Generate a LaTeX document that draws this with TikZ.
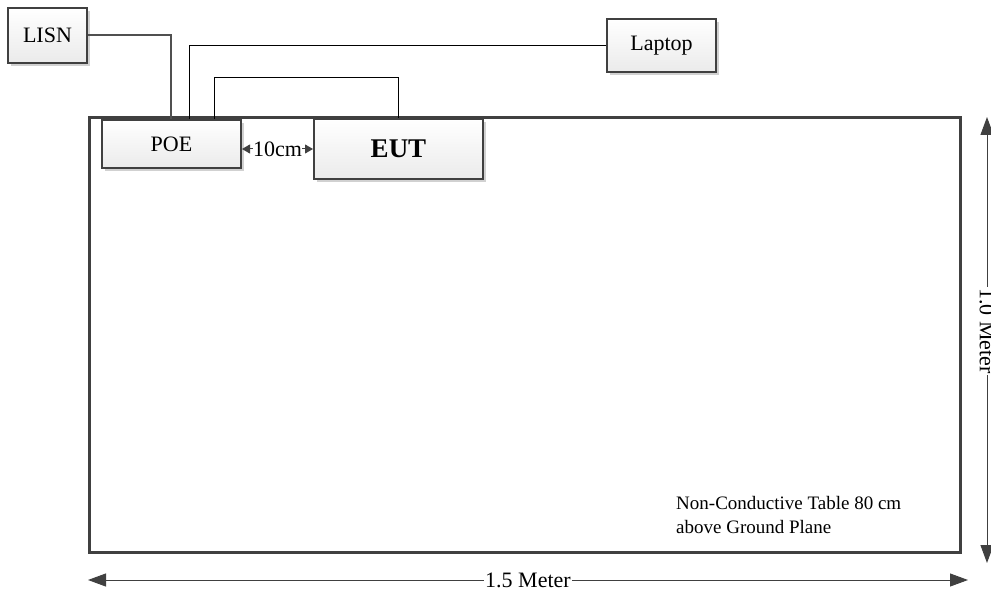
\documentclass[tikz,border=0pt]{standalone}
\usepackage{fontspec}
\setmainfont{Liberation Serif}
\usetikzlibrary{arrows.meta,shadows,calc}
\definecolor{edge}{HTML}{404040}
\definecolor{wire}{HTML}{505050}
\tikzset{
  unit/.style={draw=edge, line width=2pt, top color=white, bottom color=black!8,
    drop shadow={shadow xshift=3pt, shadow yshift=-3pt, fill=black!18, opacity=1},
    anchor=north west, inner sep=0pt, font=\fontsize{22}{24}\selectfont},
  bench/.style={draw=edge, line width=3pt},
  heavywire/.style={draw=wire, line width=2pt},
  thinwire/.style={draw=black, line width=1pt},
  dimline/.style={draw=edge, line width=1pt,
    {Triangle[length=18pt,width=13pt]}-{Triangle[length=18pt,width=13pt]}},
  gapline/.style={draw=edge, line width=1pt,
    {Triangle[length=8pt,width=9pt]}-{Triangle[length=8pt,width=9pt]}},
  dimtext/.style={fill=white, inner sep=1pt, font=\fontsize{22}{24}\selectfont},
}
\begin{document}
\begin{tikzpicture}[x=1pt, y=-1pt]
\useasboundingbox (0,0) rectangle (991,591);

% non-conductive table
\draw[bench] (89,118) rectangle (960,552);
\node[anchor=north west, align=left, inner sep=0pt, font=\fontsize{19}{24}\selectfont]
  (note) at (676,496) {Non-Conductive Table 80 cm\\above Ground Plane};

% equipment boxes
\node[unit, minimum width=79pt, minimum height=55pt] (lisn) at (7,7) {LISN};
\node[unit, minimum width=109pt, minimum height=53pt] (laptop) at (606,18) {Laptop};
\node[unit, minimum width=139pt, minimum height=48pt] (poe) at (101,119) {POE};
\node[unit, minimum width=169pt, minimum height=60pt,
      font=\fontsize{27}{28}\selectfont\bfseries] (eut) at (313,118) {EUT};

% cables
\draw[heavywire] (lisn.east) -| ([xshift=70pt]poe.north west);
\draw[thinwire] (laptop.west) -| ([xshift=88pt]poe.north west);
\draw[thinwire] ([xshift=113pt]poe.north west) -- ++(0,-41) -| (eut.north);

% 10 cm spacing
\draw[gapline] (eut.west -| poe.east) -- node[dimtext, inner sep=0.5pt] {10cm} (eut.west);

% table dimensions
\coordinate (hl) at (88,580);
\coordinate (hr) at (968,580);
\draw[dimline] (hl) -- node[dimtext] {1.5 Meter} (hr);
\coordinate (vt) at (987,117);
\coordinate (vb) at (987,563);
\draw[dimline] (vt) -- node[dimtext, pos=0.48, rotate=-90] {1.0 Meter} (vb);
\end{tikzpicture}
\end{document}
